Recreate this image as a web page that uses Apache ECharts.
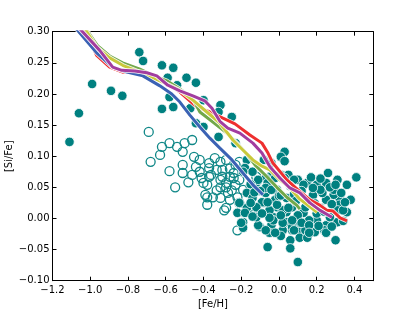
<!DOCTYPE html>
<html><head><meta charset="utf-8">
<script src="https://cdn.jsdelivr.net/npm/echarts@6/dist/echarts.min.js"></script>
<style>html,body{margin:0;padding:0;background:#fff}#c{width:415px;height:312px}</style>
</head><body><div id="c"></div>
<script>
const xTicks = [-1.2,-1.0,-0.8,-0.6,-0.4,-0.2,0.0,0.2,0.4];
const yTicks = [-0.10,-0.05,0.00,0.05,0.10,0.15,0.20,0.25,0.30];

const filledStars = [
[-1.11,0.123],[-1.06,0.169],[-0.99,0.216],[-0.89,0.205],[-0.83,0.197],[-0.74,0.267],[-0.72,0.253],[-0.62,0.246],[-0.56,0.242],[-0.59,0.226],[-0.49,0.226],[-0.44,0.218],[-0.54,0.214],[-0.58,0.195],[-0.62,0.176],[-0.56,0.179],[-0.47,0.177],[-0.40,0.190],[-0.31,0.182],[-0.32,0.171],[-0.25,0.163],[-0.40,0.147],[-0.44,0.153],[-0.32,0.131],[-0.23,0.121],
[0.03,0.107],[0.01,0.099],[0.03,0.092],[-0.17,0.094],[-0.08,0.094],[-0.04,0.089],[-0.05,0.067],[0.01,0.070],[-0.18,0.081],[-0.14,0.075],[-0.19,0.075],[-0.07,0.065],
[0.05,0.070],[0.10,0.062],[0.15,0.057],[0.20,0.054],[0.26,0.073],[0.31,0.062],[0.36,0.054],[0.41,0.066],[0.25,0.057],[-0.06,0.057],[-0.02,0.065],[-0.12,0.057],[-0.11,0.062],[0.03,0.065],[0.08,0.062],[0.13,0.054],
[-0.17,0.041],[-0.14,0.033],[-0.08,0.025],[-0.01,0.018],[0.04,0.010],[-0.03,0.002],[-0.11,0.010],[-0.17,0.017],[-0.21,0.025],[-0.22,0.009],[-0.19,-0.006],[-0.10,-0.014],[-0.04,-0.011],[0.04,-0.006],[0.10,0.001],[0.15,-0.006],[0.20,-0.003],[0.25,-0.011],[0.31,-0.006],[0.36,0.010],[0.38,0.030],[0.32,0.033],[0.29,0.038],[0.25,0.030],[0.22,0.017],[0.13,0.009],
[0.10,-0.019],[0.02,-0.019],[-0.05,-0.023],[0.01,-0.028],[0.11,-0.031],[0.19,-0.022],[0.24,-0.019],[0.30,-0.035],[0.06,-0.035],[-0.06,-0.046],[0.06,-0.048],[0.10,-0.070],[-0.19,-0.015],
[0.29,0.046],[0.23,0.041],[0.33,0.041],[0.32,0.022],[0.31,0.013],[0.34,0.013],[0.27,0.002],[0.16,-0.003],[0.11,-0.007],[0.14,-0.019],[0.25,-0.023],[0.07,-0.019],[0.15,-0.031],
[-0.18,0.009],[-0.20,-0.007],[-0.11,-0.011],[-0.09,0.026],[-0.02,0.030],[0.02,0.013],[-0.05,0.013],[-0.12,0.018],[-0.15,0.025],[-0.07,0.041],[-0.01,0.046],[0.04,0.033],[0.07,0.018],[-0.03,-0.003],[0.02,-0.007],[0.07,-0.014],[0.10,0.005],[-0.12,0.002],
[-0.07,0.049],[0.18,0.037],[0.15,0.026],[-0.06,0.026],[-0.01,0.022],[0.05,0.017],[0.14,0.018],[-0.05,0.001],[0.01,0.005],[0.07,-0.003],[0.12,-0.007],[0.16,-0.011],[-0.07,-0.019],[0.08,-0.019],[0.16,-0.023],[-0.02,-0.023],
[0.22,0.046],[0.27,0.050],[0.18,0.049],[0.12,0.044],[0.08,0.039],[0.00,0.036],[-0.04,0.046],[-0.10,0.044],[-0.15,0.055],[0.20,0.008],[0.24,0.011],[0.28,0.023],[0.35,0.026],[0.34,-0.004],[0.28,-0.013],[0.21,-0.012],[0.19,0.024],[0.09,0.028],[0.01,0.037],[-0.13,0.042],[0.06,0.052],[0.17,0.066],[0.22,0.064],[0.30,0.054],[-0.09,0.008],[-0.14,0.003]
];

const openStars = [
[-0.69,0.139],[-0.62,0.115],[-0.63,0.102],[-0.58,0.121],[-0.54,0.115],[-0.50,0.121],[-0.46,0.126],[-0.51,0.107],[-0.45,0.099],[-0.42,0.094],[-0.68,0.091],[-0.58,0.076],[-0.55,0.050],[-0.51,0.073],[-0.48,0.058],[-0.51,0.086],[-0.42,0.075],[-0.40,0.057],[-0.38,0.034],[-0.38,0.022],[-0.37,0.089],
[-0.41,0.065],[-0.36,0.070],[-0.33,0.078],[-0.31,0.062],[-0.38,0.054],[-0.31,0.050],[-0.31,0.033],[-0.28,0.050],[-0.29,0.013],[-0.26,0.030],[-0.46,0.070],
[-0.37,0.067],[-0.39,0.038],[-0.22,-0.019],[-0.28,0.057],[-0.24,0.065],[-0.27,0.041],[-0.22,0.034],[-0.21,0.025],[-0.19,0.046],[-0.16,0.018],[-0.28,0.094],[-0.23,0.086],[-0.30,0.078],[-0.24,0.073],[-0.12,0.067],[-0.26,0.067],[-0.21,0.062],[-0.23,0.054],[-0.15,0.050],[-0.21,0.091],[-0.35,0.034],[-0.28,0.017],[-0.37,0.081],[-0.31,0.091],[-0.30,0.067],
[-0.44,0.083],[-0.34,0.097],[-0.26,0.080],[-0.33,0.045],[-0.25,0.045]
];

const redLine = [[-1.034,0.305],[-0.966,0.262],[-0.897,0.243],[-0.828,0.235],[-0.737,0.235],[-0.674,0.229],[-0.605,0.219],[-0.525,0.203],[-0.435,0.179],[-0.366,0.171],[-0.297,0.161],[-0.233,0.152],[-0.154,0.134],[-0.090,0.121],[-0.058,0.105],[-0.032,0.089],[0.042,0.062],[0.101,0.046],[0.164,0.030],[0.218,0.021],[0.255,0.013],[0.286,0.012],[0.324,0.001],[0.361,-0.004]];
const greenLine = [[-1.024,0.305],[-0.960,0.277],[-0.897,0.261],[-0.828,0.250],[-0.737,0.240],[-0.668,0.230],[-0.594,0.221],[-0.525,0.208],[-0.456,0.192],[-0.419,0.171],[-0.350,0.155],[-0.276,0.137],[-0.223,0.121],[-0.180,0.107],[-0.127,0.086],[-0.064,0.067],[-0.011,0.050],[0.042,0.034],[0.095,0.021],[0.111,0.015]];
const yellowLine = [[-1.029,0.305],[-0.966,0.275],[-0.897,0.258],[-0.828,0.246],[-0.737,0.235],[-0.668,0.226],[-0.594,0.216],[-0.525,0.206],[-0.456,0.190],[-0.382,0.171],[-0.313,0.153],[-0.244,0.126],[-0.191,0.110],[-0.138,0.094],[-0.090,0.084],[-0.048,0.078],[0.005,0.062],[0.058,0.049],[0.111,0.031],[0.180,0.015],[0.202,0.010]];
const blueLine = [[-1.075,0.305],[-0.966,0.266],[-0.881,0.243],[-0.806,0.235],[-0.721,0.229],[-0.631,0.213],[-0.568,0.200],[-0.525,0.187],[-0.472,0.166],[-0.419,0.147],[-0.366,0.129],[-0.313,0.113],[-0.249,0.094],[-0.191,0.073],[-0.138,0.054],[-0.085,0.038]];
const magentaLine = [[-1.056,0.305],[-0.950,0.270],[-0.881,0.243],[-0.833,0.238],[-0.764,0.237],[-0.700,0.234],[-0.647,0.229],[-0.589,0.214],[-0.525,0.205],[-0.456,0.197],[-0.393,0.189],[-0.355,0.177],[-0.313,0.156],[-0.271,0.145],[-0.207,0.137],[-0.138,0.121],[-0.090,0.105],[-0.048,0.083],[0.005,0.065],[0.058,0.049],[0.111,0.041],[0.164,0.025],[0.218,0.013],[0.281,0.002]];

const lines = [
  {data: redLine, color: '#ee2f2f'},
  {data: greenLine, color: '#72a84a'},
  {data: yellowLine, color: '#c9c93c'},
  {data: blueLine, color: '#3b62b4'},
  {data: magentaLine, color: '#a23d9f'}
];

const FONT = 'DejaVu Sans';
const minus = s => s.replace('-', '\u2212');
const fmtX = v => minus(Number(v).toFixed(1));
const fmtY = v => minus(Number(v).toFixed(2));

const chart = echarts.init(document.getElementById('c'), null, {renderer: 'canvas'});

function xa(pos, show) {
  return {
    type: 'value', position: pos, min: -1.2, max: 0.5,
    axisLine: {show: true, onZero: false, lineStyle: {color: '#000', width: 1}},
    axisTick: {show: true, inside: true, length: 4, customValues: xTicks, lineStyle: {color: '#000'}},
    axisLabel: {show: show, customValues: xTicks, formatter: fmtX, color: '#000', fontSize: 10, fontFamily: FONT, margin: 5},
    splitLine: {show: false},
    name: show ? '[Fe/H]' : '', nameLocation: 'middle', nameGap: 19, nameMoveOverlap: false,
    nameTextStyle: {color: '#000', fontSize: 10, fontFamily: FONT}
  };
}
function ya(pos, show) {
  return {
    type: 'value', position: pos, min: -0.10, max: 0.30,
    axisLine: {show: true, onZero: false, lineStyle: {color: '#000', width: 1}},
    axisTick: {show: true, inside: true, length: 4, customValues: yTicks, lineStyle: {color: '#000'}},
    axisLabel: {show: show, customValues: yTicks, formatter: fmtY, color: '#000', fontSize: 10, fontFamily: FONT, margin: 3},
    splitLine: {show: false},
    name: show ? '[Si/Fe]' : '', nameLocation: 'middle', nameGap: 38, nameMoveOverlap: false,
    nameTextStyle: {color: '#000', fontSize: 10, fontFamily: FONT}
  };
}

const series = [
  {type: 'scatter', data: openStars, symbolSize: 9, xAxisIndex: 0, yAxisIndex: 0,
   itemStyle: {color: 'rgba(255,255,255,0)', borderColor: '#0f8787', borderWidth: 1.3, opacity: 1}, z: 2},
  {type: 'scatter', data: filledStars, symbolSize: 9.5, xAxisIndex: 0, yAxisIndex: 0,
   itemStyle: {color: '#008080', borderColor: '#ffffff', borderWidth: 0.8, opacity: 1}, z: 3}
];
lines.forEach(l => {
  series.push({type: 'line', data: l.data, showSymbol: false, symbol: 'none', clip: true, z: 4,
    lineStyle: {color: '#ffffff', width: 4.6, opacity: 0.9}, silent: true});
  series.push({type: 'line', data: l.data, showSymbol: false, symbol: 'none', clip: true, z: 4,
    lineStyle: {color: l.color, width: 3}, silent: true});
});

chart.setOption({
  animation: false,
  backgroundColor: '#fff',
  grid: {left: 52.5, right: 41.7, top: 31.7, bottom: 31.3, containLabel: false, outerBoundsMode: 'none'},
  xAxis: [xa('bottom', true), xa('top', false)],
  yAxis: [ya('left', true), ya('right', false)],
  series: series
});
</script>
</body></html>
